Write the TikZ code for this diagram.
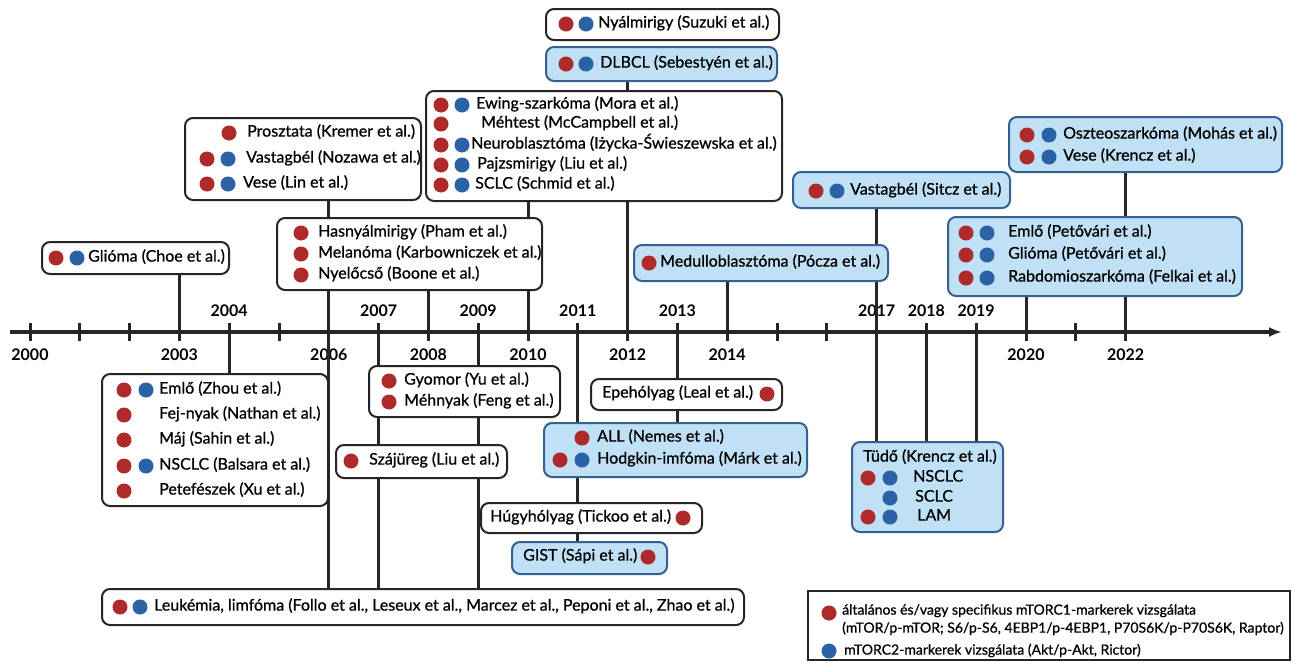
\documentclass[tikz,border=0pt]{standalone}
\usepackage{fontspec}
\setmainfont{Lato}
\newfontfamily\kozepes{Lato}[FakeBold=0.8]
\usetikzlibrary{arrows.meta,fit,backgrounds}
\definecolor{piros}{HTML}{AF2A2A}
\definecolor{kek}{HTML}{2B62A6}
\definecolor{halvany}{HTML}{BFE0F5}
\definecolor{keret}{HTML}{34618F}
\tikzset{
  doboz/.style={draw=black!85, line width=2pt, rounded corners=8pt, fill=white, inner sep=0pt},
  kekdoboz/.style={doboz, draw=keret, fill=halvany},
  szoveg/.style={anchor=west, inner sep=0pt, text height=0.72em, text depth=0pt, font=\kozepes\fontsize{16}{19}\selectfont},
  jel/.style={szoveg, font=\kozepes\fontsize{14}{17}\selectfont},
  evszam/.style={inner sep=0pt, font=\bfseries\fontsize{16}{19}\selectfont},
  vonal/.style={line width=3pt, black!85},
  tengely/.style={line width=3.5pt, black!85, -{Latex[length=13pt,width=10pt]}},
}
\newcommand{\pp}[1]{\fill[piros] #1 circle (7.5pt);}
\newcommand{\kp}[1]{\fill[kek] #1 circle (7.5pt);}

\begin{document}
\begin{tikzpicture}[x=1pt, y=-1pt]
  \useasboundingbox (0,0) rectangle (1295,670);

  % Tengely
  \coordinate (start) at (10,332);
  \coordinate (end) at (1282,332);
  \foreach \i in {0,...,22} \coordinate (y\i) at ({30+49.8*\i},332);

  % Dobozok (felül)
  \node[doboz, fit={(546,9)(779,40)}] (nyal) {};
  \node[kekdoboz, fit={(546,47)(777,81)}] (dlbcl) {};
  \node[doboz, fit={(426,91)(782,201)}] (ewing) {};
  \node[doboz, fit={(185,118)(421,200)}] (prosz) {};
  \node[doboz, fit={(277,218)(542,290)}] (hasny) {};
  \node[doboz, fit={(42,242)(229,274)}] (glioma) {};
  \node[kekdoboz, fit={(634,245)(888,281)}] (medullo) {};
  \node[kekdoboz, fit={(793,172)(1010,208)}] (sitcz) {};
  \node[kekdoboz, fit={(1009,117)(1282,172)}] (oszteo) {};
  \node[kekdoboz, fit={(948,217)(1242,296)}] (petov) {};

  % Dobozok (alul)
  \node[doboz, fit={(102,374)(328,506)}] (emlo) {};
  \node[doboz, fit={(369,366)(560,417)}] (gyomor) {};
  \node[doboz, fit={(336,445)(507,478)}] (szaj) {};
  \node[doboz, fit={(591,379)(782,410)}] (epe) {};
  \node[kekdoboz, fit={(544,423)(807,477)}] (hodgkin) {};
  \node[doboz, fit={(481,503)(702,533)}] (hugy) {};
  \node[kekdoboz, fit={(512,542)(667,574)}] (gist) {};
  \node[doboz, fit={(102,589)(744,625)}] (leuk) {};
  \node[kekdoboz, fit={(852,442)(1003,532)}] (tudo) {};
  \node[draw=black!85, line width=2pt, fill=white, inner sep=0pt, fit={(808,591)(1290,660)}] (jelmag) {};

  % Szovegek
  \pp{(566,24)} \kp{(586,24)}
  \node[szoveg] (nyal-t) at (598,24) {Nyálmirigy (Suzuki et al.)};
  \pp{(566,64)} \kp{(586,64)}
  \node[szoveg] (dlbcl-t) at (600,64) {DLBCL (Sebestyén et al.)};

  \pp{(441,105)} \kp{(462,105)}
  \node[szoveg] (ewing-t1) at (476,105) {Ewing-szarkóma (Mora et al.)};
  \pp{(441,124)}
  \node[szoveg] (ewing-t2) at (481,124) {Méhtest (McCampbell et al.)};
  \pp{(441,145)} \kp{(462,145)}
  \node[szoveg] (ewing-t3) at (471,145) {Neuroblasztóma (Iżycka-Świeszewska et al.)};
  \pp{(441,165)} \kp{(462,165)}
  \node[szoveg] (ewing-t4) at (477,165) {Pajzsmirigy (Liu et al.)};
  \pp{(441,185)} \kp{(462,185)}
  \node[szoveg] (ewing-t5) at (475,185) {SCLC (Schmid et al.)};

  \pp{(229,133)}
  \node[szoveg] (prosz-t1) at (247,133) {Prosztata (Kremer et al.)};
  \pp{(207,159)} \kp{(228,159)}
  \node[szoveg] (prosz-t2) at (246,159) {Vastagbél (Nozawa et al.)};
  \pp{(207,184)} \kp{(228,184)}
  \node[szoveg] (prosz-t3) at (243,184) {Vese (Lin et al.)};

  \pp{(301,233)}
  \node[szoveg] (hasny-t1) at (318,233) {Hasnyálmirigy (Pham et al.)};
  \pp{(301,254)}
  \node[szoveg] (hasny-t2) at (318,254) {Melanóma (Karbowniczek et al.)};
  \pp{(301,275)}
  \node[szoveg] (hasny-t3) at (318,275) {Nyelőcső (Boone et al.)};

  \pp{(56,258)} \kp{(77,258)}
  \node[szoveg] (glioma-t) at (88,258) {Glióma (Choe et al.)};

  \pp{(649,263)}
  \node[szoveg] (medullo-t) at (660,263) {Medulloblasztóma (Pócza et al.)};

  \pp{(816,191)} \kp{(837,191)}
  \node[szoveg] (sitcz-t) at (850,191) {Vastagbél (Sitcz et al.)};

  \pp{(1027,135)} \kp{(1049,135)}
  \node[szoveg] (oszteo-t1) at (1063,135) {Oszteoszarkóma (Mohás et al.)};
  \pp{(1027,157)} \kp{(1049,157)}
  \node[szoveg] (oszteo-t2) at (1063,157) {Vese (Krencz et al.)};

  \pp{(966,233)} \kp{(987,233)}
  \node[szoveg] (petov-t1) at (1008,233) {Emlő (Petővári et al.)};
  \pp{(966,255)} \kp{(987,255)}
  \node[szoveg] (petov-t2) at (1008,255) {Glióma (Petővári et al.)};
  \pp{(966,278)} \kp{(987,278)}
  \node[szoveg] (petov-t3) at (1008,278) {Rabdomioszarkóma (Felkai et al.)};

  \pp{(124,390)} \kp{(146,390)}
  \node[szoveg] (emlo-t1) at (159,390) {Emlő (Zhou et al.)};
  \pp{(124,415)}
  \node[szoveg] (emlo-t2) at (159,415) {Fej-nyak (Nathan et al.)};
  \pp{(124,440)}
  \node[szoveg] (emlo-t3) at (159,440) {Máj (Sahin et al.)};
  \pp{(124,466)} \kp{(146,466)}
  \node[szoveg] (emlo-t4) at (159,466) {NSCLC (Balsara et al.)};
  \pp{(124,491)}
  \node[szoveg] (emlo-t5) at (159,491) {Petefészek (Xu et al.)};

  \pp{(389,381)}
  \node[szoveg] (gyomor-t1) at (404,381) {Gyomor (Yu et al.)};
  \pp{(389,402)}
  \node[szoveg] (gyomor-t2) at (404,402) {Méhnyak (Feng et al.)};

  \pp{(351,461)}
  \node[szoveg] (szaj-t) at (369,461) {Szájüreg (Liu et al.)};

  \node[szoveg] (epe-t) at (602,394) {Epehólyag (Leal et al.)};
  \pp{(767,394)}

  \pp{(582,438)}
  \node[szoveg] (hodgkin-t1) at (597,438) {ALL (Nemes et al.)};
  \pp{(560,460)} \kp{(582,460)}
  \node[szoveg] (hodgkin-t2) at (597,460) {Hodgkin-imfóma (Márk et al.)};

  \node[szoveg] (hugy-t) at (490,518) {Húgyhólyag (Tickoo et al.)};
  \pp{(683,518)}

  \node[szoveg] (gist-t) at (523,557) {GIST (Sápi et al.)};
  \pp{(648,557)}

  \pp{(120,607)} \kp{(140,607)}
  \node[szoveg] (leuk-t) at (154,607) {Leukémia, limfóma (Follo et al., Leseux et al., Marcez et al., Peponi et al., Zhao et al.)};

  \node[szoveg] (tudo-t) at (863,458) {Tüdő (Krencz et al.)};
  \pp{(868,478)} \kp{(890,478)}
  \node[szoveg] (tudo-t1) at (913,478) {NSCLC};
  \kp{(890,498)}
  \node[szoveg] (tudo-t2) at (915,498) {SCLC};
  \pp{(868,517)} \kp{(890,517)}
  \node[szoveg] (tudo-t3) at (917,517) {LAM};

  \pp{(829,613)}
  \node[jel] (jelmag-t1) at (842,611) {általános és/vagy specifikus mTORC1-markerek vizsgálata};
  \node[jel] (jelmag-t2) at (842,629) {(mTOR/p-mTOR; S6/p-S6, 4EBP1/p-4EBP1, P70S6K/p-P70S6K, Raptor)};
  \kp{(829,651)}
  \node[jel] (jelmag-t3) at (844,651) {mTORC2-markerek vizsgálata (Akt/p-Akt, Rictor)};

  % Vonalak
  \begin{pgfonlayer}{background}
    \foreach \i in {4,7,9,11,13,17,18,19}
      \node[evszam] (ev\i) at ([yshift=21pt]y\i) {\number\numexpr2000+\i\relax};
    \foreach \i in {0,3,6,8,10,12,14,20,22}
      \node[evszam] (ev\i) at ([yshift=-23pt]y\i) {\number\numexpr2000+\i\relax};

    \draw[vonal] (glioma.south -| y3) -- (y3);
    \draw[vonal] (y4) -- (emlo.north -| y4);
    \draw[vonal] (prosz.south -| y6) -- (leuk.north -| y6);
    \draw[vonal] (y7) -- (leuk.north -| y7);
    \draw[vonal] (hasny.south -| y8) -- (y8);
    \draw[vonal] (y9) -- (leuk.north -| y9);
    \draw[vonal] (ewing.south -| y10) -- (y10);
    \draw[vonal] (y11) -- (gist.north -| y11);
    \draw[vonal] (dlbcl.south -| y12) -- (y12);
    \draw[vonal] (y13) -- (hodgkin.north -| y13);
    \draw[vonal] (medullo.south -| y14) -- (y14);
    \draw[vonal] (sitcz.south -| y17) -- (tudo.north -| y17);
    \draw[vonal] (y18) -- (tudo.north -| y18);
    \draw[vonal] (y19) -- (tudo.north -| y19);
    \draw[vonal] (petov.south -| y20) -- (y20);
    \draw[vonal] (oszteo.south -| y22) -- (y22);

    \foreach \i in {0,...,22}
      \draw[vonal] ([yshift=9pt]y\i) -- ([yshift=-9pt]y\i);
    \draw[tengely] (start) -- (end);
  \end{pgfonlayer}
\end{tikzpicture}
\end{document}
